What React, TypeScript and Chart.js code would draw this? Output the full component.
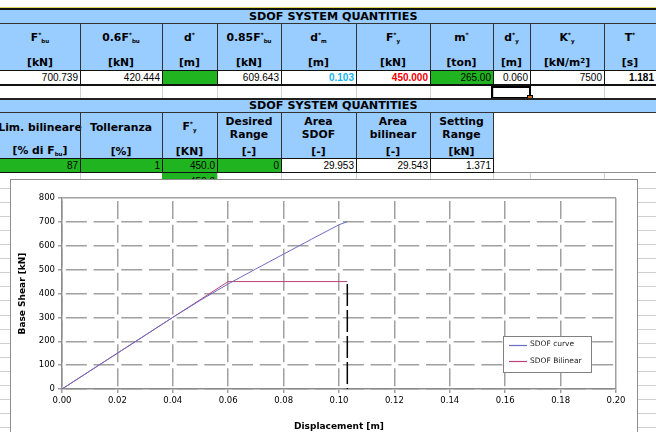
import { useEffect, useRef } from "react";
import type { ReactNode, CSSProperties } from "react";
import { Chart, registerables } from "chart.js";

Chart.register(...registerables);

// ---- SDOF capacity curve (displacement [m], base shear [kN]) ----
const curveDisp = [0, 0.01, 0.02, 0.03, 0.04, 0.05, 0.06, 0.07, 0.08, 0.09, 0.1, 0.103];
const curveForce = [0, 75, 150, 225, 300, 372, 440, 503, 565, 627, 688, 700.739];

// ---- equivalent bilinear curve ----
const bilinDisp = [0, 0.06, 0.103];
const bilinForce = [0, 450, 450];

// ---- ultimate displacement marker d*m ----
const markerDisp = [0.103, 0.103];
const markerForce = [440, 0];

// ---- axes ----
const xMin = 0;
const xMax = 0.2;
const xStep = 0.02;
const yMin = 0;
const yMax = 800;
const yStep = 100;

// ---- spreadsheet values ----
const topValues = ["700.739", "420.444", "", "609.643", "0.103", "450.000", "265.00", "0.060", "7500", "1.181"];
const bottomValues = ["87", "1", "450.0", "0", "29.953", "29.543", "1.371"];

const sheetTitle = "SDOF SYSTEM QUANTITIES";

// ---- layout ----
const topEdges = [0, 80, 162, 217, 281, 356, 430, 493, 530, 604, 656];
const bottomEdges = [0, 80, 162, 217, 281, 356, 430, 493];

const LIGHT_BLUE = "#99ccff";
const GREEN = "#20b420";
const GRID = "#d0d0d0";
const HEAD_FONT = '"DejaVu Sans", Verdana, sans-serif';
const CELL_FONT = '"Liberation Sans", Arial, sans-serif';

const Rect = ({ x, y, w, h, c }: { x: number; y: number; w: number; h: number; c: string }) => (
  <div style={{ position: "absolute", left: x, top: y, width: w, height: h, background: c }} />
);

const Txt = ({
  x, y, w, h = 12, align = "center", style, children,
}: { x: number; y: number; w: number; h?: number; align?: string; style?: CSSProperties; children: ReactNode }) => (
  <div
    style={{
      position: "absolute", left: x, top: y - h / 2, width: w, height: h, display: "flex",
      alignItems: "center",
      justifyContent: align === "right" ? "flex-end" : align === "left" ? "flex-start" : "center",
      whiteSpace: "nowrap", lineHeight: `${h}px`, ...style,
    }}
  >
    {children}
  </div>
);

const Sym = ({ pre = "", base, sub = "" }: { pre?: string; base: string; sub?: string }) => (
  <span>
    {pre}
    {base}
    <span style={{ fontSize: 6, position: "relative", top: -4 }}>*</span>
    {sub && <span style={{ fontSize: 5.5, position: "relative", top: 2 }}>{sub}</span>}
  </span>
);

const topHeads: { sym: ReactNode; unit: ReactNode }[] = [
  { sym: <Sym base="F" sub="bu" />, unit: "[kN]" },
  { sym: <Sym pre="0.6" base="F" sub="bu" />, unit: "[kN]" },
  { sym: <Sym base="d" />, unit: "[m]" },
  { sym: <Sym pre="0.85" base="F" sub="bu" />, unit: "[kN]" },
  { sym: <Sym base="d" sub="m" />, unit: "[m]" },
  { sym: <Sym base="F" sub="y" />, unit: "[kN]" },
  { sym: <Sym base="m" />, unit: "[ton]" },
  { sym: <Sym base="d" sub="y" />, unit: "[m]" },
  { sym: <Sym base="K" sub="y" />, unit: <span>[kN/m<span style={{ fontSize: 7, position: "relative", top: -3 }}>2</span>]</span> },
  { sym: <Sym base="T" />, unit: "[s]" },
];

const bottomHeads: { lines: ReactNode[]; unit: ReactNode }[] = [
  { lines: ["Lim. bilineare"], unit: <span>[% di F<span style={{ fontSize: 5.5, position: "relative", top: 2 }}>bu</span>]</span> },
  { lines: ["Tolleranza"], unit: "[%]" },
  { lines: [<Sym base="F" sub="y" />], unit: "[KN]" },
  { lines: ["Desired", "Range"], unit: "[-]" },
  { lines: ["Area", "SDOF"], unit: "[-]" },
  { lines: ["Area", "bilinear"], unit: "[-]" },
  { lines: ["Setting", "Range"], unit: "[kN]" },
];

const topStyles: CSSProperties[] = [
  {}, {}, {}, {}, { color: "#14b4f0", fontWeight: "bold" }, { color: "#f00000", fontWeight: "bold" },
  {}, {}, {}, { fontWeight: "bold" },
];
const topGreen = [false, false, true, false, false, false, true, false, false, false];
const bottomGreen = [true, true, true, true, false, false, false];

// Legend drawn inside the plot area, from the dataset labels and colours
const insideLegend = {
  id: "insideLegend",
  afterDraw(chart: any) {
    const { ctx, chartArea: a } = chart;
    const x = Math.round(a.left + (a.right - a.left) * 0.796);
    const y = Math.round(a.top + (a.bottom - a.top) * 0.7225);
    const w = 88;
    const h = 36;
    ctx.save();
    ctx.fillStyle = "#ffffff";
    ctx.fillRect(x, y, w, h);
    ctx.strokeStyle = "#808080";
    ctx.lineWidth = 1;
    ctx.strokeRect(x + 0.5, y + 0.5, w, h);
    ctx.font = '7.5px "DejaVu Sans"';
    ctx.textBaseline = "middle";
    chart.data.datasets
      .filter((d: any) => d.inLegend)
      .forEach((d: any, i: number) => {
        const ly = y + 8.5 + i * 16.5;
        ctx.strokeStyle = d.borderColor;
        ctx.lineWidth = 1.2;
        ctx.beginPath();
        ctx.moveTo(x + 6, Math.round(ly) + 0.5);
        ctx.lineTo(x + 24, Math.round(ly) + 0.5);
        ctx.stroke();
        ctx.fillStyle = "#1a1a1a";
        ctx.fillText(d.label, x + 27, ly);
      });
    ctx.restore();
  },
};

const toPoints = (xs: number[], ys: number[]) => xs.map((x, i) => ({ x, y: ys[i] }));

export default function App() {
  const canvasRef = useRef<HTMLCanvasElement>(null);

  useEffect(() => {
    const tickFont = { family: '"DejaVu Sans"', size: 8.5 };
    const titleFont = { family: '"DejaVu Sans"', size: 9, weight: "bold" as const };
    const chart = new Chart(canvasRef.current!, {
      type: "scatter",
      data: {
        datasets: [
          {
            label: "SDOF curve",
            data: toPoints(curveDisp, curveForce),
            showLine: true,
            borderColor: "#6c6cc4",
            borderWidth: 1,
            pointRadius: 0,
            inLegend: true,
          } as any,
          {
            label: "SDOF Bilinear",
            data: toPoints(bilinDisp, bilinForce),
            showLine: true,
            borderColor: "#b8457a",
            borderWidth: 1,
            pointRadius: 0,
            inLegend: true,
          } as any,
          {
            label: "d*m",
            data: toPoints(markerDisp, markerForce),
            showLine: true,
            borderColor: "#000000",
            borderWidth: 1.5,
            borderDash: [22, 4],
            pointRadius: 0,
            inLegend: false,
          } as any,
        ],
      },
      options: {
        animation: false,
        responsive: false,
        layout: { padding: { left: 0, top: 18, right: 21, bottom: 0 } },
        plugins: { legend: { display: false }, tooltip: { enabled: false } },
        scales: {
          x: {
            type: "linear",
            min: xMin,
            max: xMax,
            ticks: {
              stepSize: xStep,
              autoSkip: false,
              maxRotation: 0,
              color: "#000",
              font: tickFont,
              padding: 3,
              callback: (v: any) => Number(v).toFixed(2),
            },
            grid: { color: "#a0a0a0", lineWidth: 1.5, tickLength: 4, tickColor: "#a0a0a0" },
            border: {
              display: true,
              color: "#8c8c8c",
              width: 1.5,
              dash: (c: any) => (c.tick && Math.abs(c.tick.value - xMax) < 1e-9 ? [] : [18, 5.9]),
              dashOffset: 20.95,
            },
            title: {
              display: true,
              text: "Displacement [m]",
              color: "#000",
              font: titleFont,
              padding: { top: 0, bottom: 5.5 },
            },
            afterFit: (s: any) => {
              s.height = 49;
            },
          },
          y: {
            type: "linear",
            min: yMin,
            max: yMax,
            ticks: { stepSize: yStep, color: "#000", font: tickFont, padding: 3 },
            grid: { color: "#a0a0a0", lineWidth: 1.5, tickLength: 4, tickColor: "#a0a0a0" },
            border: {
              display: true,
              color: "#8c8c8c",
              width: 1.5,
              dash: (c: any) => (c.tick && c.tick.value === yMax ? [] : [21, 6.7]),
              dashOffset: 24.35,
            },
            title: {
              display: true,
              text: "Base Shear [kN]",
              color: "#000",
              font: titleFont,
              padding: { top: 6, bottom: 0 },
            },
            afterFit: (s: any) => {
              s.width = 51;
            },
          },
        },
      },
      plugins: [insideLegend],
    });
    return () => chart.destroy();
  }, []);

  const headStyle: CSSProperties = { fontFamily: HEAD_FONT, fontWeight: "bold", fontSize: 10.8, color: "#000" };
  const titleStyle: CSSProperties = { ...headStyle, fontSize: 11.2 };
  const cellStyle: CSSProperties = { fontFamily: CELL_FONT, fontSize: 10, color: "#000" };

  // worksheet row lines visible around the chart
  const sheetRows = Array.from({ length: 18 }, (_, k) => 188 + k * 14.06);

  return (
    <div
      style={{
        position: "fixed", left: 0, top: 0, width: 656, height: 432, overflow: "hidden",
        background: "#fff",
      }}
    >
      {/* worksheet grid behind the chart */}
      {sheetRows.map((y, i) => (
        <Rect key={"r" + i} x={0} y={Math.round(y)} w={656} h={1} c={GRID} />
      ))}
      {bottomEdges.slice(1).concat([530, 604]).map((x, i) => (
        <Rect key={"g" + i} x={x} y={172} w={1} h={10} c={GRID} />
      ))}
      <Rect x={162} y={173} w={55} h={14} c={GREEN} />
      <Txt x={162} y={181} w={53} h={13} align="right" style={cellStyle}>450.0</Txt>

      {/* ---------- first table ---------- */}
      <Rect x={0} y={7} w={656} h={1} c="#e0d860" />
      <Rect x={0} y={8} w={656} h={2} c="#111" />
      <Rect x={0} y={10} w={656} h={13} c={LIGHT_BLUE} />
      <Txt x={249} y={16.5} w={180} h={13} align="left" style={titleStyle}>{sheetTitle}</Txt>
      <Rect x={0} y={23} w={656} h={1} c="#333" />
      <Rect x={0} y={24} w={656} h={46} c={LIGHT_BLUE} />
      {topHeads.map((hd, i) => {
        const x = topEdges[i];
        const w = topEdges[i + 1] - x;
        return (
          <div key={"th" + i}>
            <Txt x={x} y={38.5} w={w} style={headStyle}>{hd.sym}</Txt>
            <Txt x={x} y={63} w={w} style={headStyle}>{hd.unit}</Txt>
          </div>
        );
      })}
      {topEdges.slice(1, -1).map((x, i) => (
        <Rect key={"tv" + i} x={x} y={24} w={1} h={46} c="#333" />
      ))}
      <Rect x={0} y={70} w={656} h={1} c="#111" />
      {topValues.map((v, i) => {
        const x = topEdges[i];
        const w = topEdges[i + 1] - x;
        return (
          <div key={"tc" + i}>
            {topGreen[i] && <Rect x={x} y={71} w={w} h={13} c={GREEN} />}
            <Txt x={x} y={77.5} w={w - 2} h={13} align="right" style={{ ...cellStyle, ...topStyles[i] }}>
              {v}
            </Txt>
          </div>
        );
      })}
      {topEdges.slice(1, -1).map((x, i) => (
        <Rect key={"tdv" + i} x={x} y={71} w={1} h={13} c="#111" />
      ))}
      <Rect x={0} y={84} w={656} h={2} c="#111" />
      {topEdges.slice(1, -1).map((x, i) => (
        <Rect key={"ev" + i} x={x} y={86} w={1} h={12} c={GRID} />
      ))}
      {/* active cell */}
      <div
        style={{
          position: "absolute", left: 491, top: 86, width: 36, height: 9,
          border: "2px solid #000",
        }}
      />
      <div
        style={{
          position: "absolute", left: 527, top: 95, width: 4, height: 4,
          background: "#c86a1e", border: "1px solid #000",
        }}
      />

      {/* ---------- second table ---------- */}
      <Rect x={0} y={98} w={656} h={2} c="#222" />
      <Rect x={0} y={100} w={656} h={12} c={LIGHT_BLUE} />
      <Txt x={249} y={105.5} w={180} h={13} align="left" style={titleStyle}>{sheetTitle}</Txt>
      <Rect x={0} y={112} w={656} h={1} c="#333" />
      <Rect x={0} y={113} w={493} h={45} c={LIGHT_BLUE} />
      {bottomHeads.map((hd, i) => {
        const x = bottomEdges[i];
        const w = bottomEdges[i + 1] - x;
        const ys = hd.lines.length === 1 ? [127.5] : [121.5, 135];
        return (
          <div key={"bh" + i}>
            {hd.lines.map((ln, j) => (
              <Txt key={j} x={x} y={ys[j]} w={w} style={headStyle}>{ln}</Txt>
            ))}
            <Txt x={x} y={151.5} w={w} style={headStyle}>{hd.unit}</Txt>
          </div>
        );
      })}
      {bottomEdges.slice(1).map((x, i) => (
        <Rect key={"bv" + i} x={x} y={113} w={1} h={45} c="#333" />
      ))}
      <Rect x={0} y={158} w={494} h={1} c="#111" />
      {bottomValues.map((v, i) => {
        const x = bottomEdges[i];
        const w = bottomEdges[i + 1] - x;
        return (
          <div key={"bc" + i}>
            {bottomGreen[i] && <Rect x={x} y={159} w={w} h={13} c={GREEN} />}
            <Txt x={x} y={165.5} w={w - 2} h={13} align="right" style={cellStyle}>
              {v}
            </Txt>
          </div>
        );
      })}
      {bottomEdges.slice(1).map((x, i) => (
        <Rect key={"bdv" + i} x={x} y={159} w={1} h={13} c="#111" />
      ))}
      <Rect x={0} y={172} w={494} h={1} c="#111" />
      <Rect x={494} y={172} w={162} h={1} c="#909090" />

      {/* ---------- chart ---------- */}
      <div
        style={{
          position: "absolute", left: 10, top: 179, width: 626, height: 258,
          border: "1px solid #8c8c8c", background: "#fff",
        }}
      >
        <canvas ref={canvasRef} width={626} height={258} style={{ display: "block", width: 626, height: 258 }} />
      </div>
    </div>
  );
}
